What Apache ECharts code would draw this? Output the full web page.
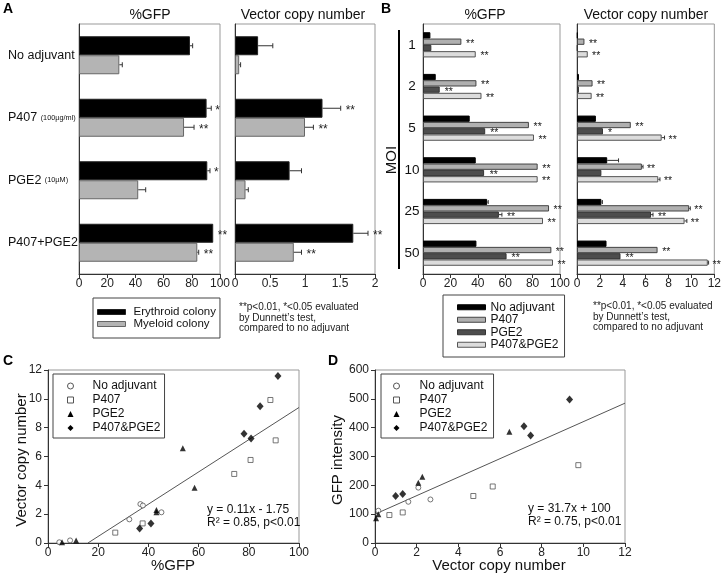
<!DOCTYPE html>
<html><head><meta charset="utf-8">
<script src="https://cdn.jsdelivr.net/npm/echarts@6/dist/echarts.min.js"></script>
<style>html,body{margin:0;padding:0;background:#fff}#c{width:724px;height:581px}</style>
</head><body><div id="c"></div>
<script>
// ---------- Panel A ----------
const catA = ['No adjuvant', 'P407', 'PGE2', 'P407+PGE2'];
const doseA = ['', '(100µg/ml)', '(10µM)', ''];
const aGfpEry = [78.7, 90.5, 91, 95.2];
const aGfpEryErr = [80.6, 93.8, 92.9, 95.6];
const aGfpEryStar = ['', '*', '*', '**'];
const aGfpMye = [28.6, 74.5, 42, 83.9];
const aGfpMyeErr = [30.7, 81.6, 47.3, 84.9];
const aGfpMyeStar = ['', '**', '', '**'];
const aVcnEry = [0.33, 1.25, 0.78, 1.69];
const aVcnEryErr = [0.54, 1.51, 0.95, 1.9];
const aVcnEryStar = ['', '**', '', '**'];
const aVcnMye = [0.06, 1.0, 0.15, 0.84];
const aVcnMyeErr = [0.08, 1.12, 0.19, 0.95];
const aVcnMyeStar = ['', '**', '', '**'];
const aGfpTicks = [0, 100, 20];
const aVcnTicks = [0, 2, 0.5];

// ---------- Panel B ----------
const catB = ['1', '2', '5', '10', '25', '50'];
const bGfpNoAdj = [5.4, 9.3, 34.1, 38.5, 46.8, 39];
const bGfpNoAdjErr = [null, null, 34.5, 39, 47.6, null];
const bGfpNoAdjStar = ['', '', '', '', '', ''];
const bGfpP407 = [28, 39, 77.3, 83.7, 92, 93.7];
const bGfpP407Err = [28.5, 39.5, 77.8, 84.2, 92.4, 94];
const bGfpP407Star = ['**', '**', '**', '**', '**', '**'];
const bGfpPGE2 = [6.1, 12.2, 45.4, 44.6, 55.4, 61];
const bGfpPGE2Err = [null, null, null, 45, 57.6, null];
const bGfpPGE2Star = ['', '**', '**', '**', '**', '**'];
const bGfpPP = [38.5, 42.7, 81, 83.7, 87.6, 94.9];
const bGfpPPErr = [39, 43, 81.3, 84, 88, 95.2];
const bGfpPPStar = ['**', '**', '**', '**', '**', '**'];

const bVcnNoAdj = [0.06, 0.17, 1.65, 2.64, 2.13, 2.58];
const bVcnNoAdjErr = [null, null, 1.7, 3.63, 2.22, null];
const bVcnNoAdjStar = ['', '', '', '', '', ''];
const bVcnP407 = [0.65, 1.36, 4.7, 5.67, 9.8, 7.04];
const bVcnP407Err = [0.7, 1.4, 4.75, 5.77, 9.9, 7.1];
const bVcnP407Star = ['**', '**', '**', '**', '**', '**'];
const bVcnPGE2 = [0.05, 0.17, 2.27, 2.13, 6.47, 3.8];
const bVcnPGE2Err = [null, null, null, null, 6.64, null];
const bVcnPGE2Star = ['', '', '*', '', '**', '**'];
const bVcnPP = [0.94, 1.28, 7.4, 7.1, 9.4, 11.43];
const bVcnPPErr = [0.97, 1.3, 7.65, 7.25, 9.6, 11.5];
const bVcnPPStar = ['**', '**', '**', '**', '**', '**'];

// ---------- Panel C (x: %GFP, y: vector copy number) ----------
const cNoAdjX = [4.5, 8.8, 32.4, 36.8, 45.2, 37.8];
const cNoAdjY = [0.05, 0.18, 1.64, 2.7, 2.13, 2.6];
const cP407X = [26.8, 37.7, 74.2, 80.7, 88.6, 90.7];
const cP407Y = [0.72, 1.36, 4.79, 5.76, 9.92, 7.12];
const cPGE2X = [5.6, 11.2, 43.2, 43.2, 53.7, 58.4];
const cPGE2Y = [0.05, 0.18, 2.29, 2.13, 6.57, 3.84];
const cPPX = [36.5, 41, 78.1, 80.9, 84.5, 91.6];
const cPPY = [1.0, 1.36, 7.58, 7.24, 9.48, 11.58];
const cFitX = [15.9, 100];
const cFitY = [0, 9.4];

// ---------- Panel D (x: vector copy number, y: GFP intensity) ----------
const dNoAdjX = [0.16, 1.6, 2.08, 2.66];
const dNoAdjY = [112, 143, 192, 151];
const dP407X = [0.69, 1.33, 4.72, 5.65, 9.76];
const dP407Y = [97, 106, 163, 196, 270];
const dPGE2X = [0.05, 0.16, 2.08, 2.27, 6.45];
const dPGE2Y = [86, 100, 209, 230, 386];
const dPPX = [0.99, 1.33, 7.15, 7.47, 9.34];
const dPPY = [163, 170, 405, 373, 498];
const dFitX = [0, 12];
const dFitY = [100, 485];

const F = '"Liberation Sans", Arial, Helvetica, sans-serif';
const zip = (xs, ys) => xs.map((x, i) => [x, ys[i]]);

const cBlack = '#000', cP407 = '#b0b0b0', cPGE2 = '#4d4d4d', cPP = '#dcdcdc', cMye = '#b4b4b4';

function valAxis(grid, t, labelExtra) {
  return {
    gridIndex: grid, type: 'value', min: t[0], max: t[1], interval: t[2],
    axisLine: { show: true, onZero: false, lineStyle: { color: '#333', width: 1 } },
    axisTick: { show: true, length: 4, lineStyle: { color: '#333' } },
    axisLabel: Object.assign({ margin: 4, fontFamily: F, fontSize: 12, color: '#222' }, labelExtra || {}),
    splitLine: { show: false }
  };
}
function catAxis(grid, data, label) {
  return {
    gridIndex: grid, type: 'category', data: data, inverse: true,
    axisLine: { show: true, lineStyle: { color: '#333' } },
    axisTick: { show: false },
    axisLabel: label || { show: false }
  };
}
function bar(name, idx, data, color, border, width) {
  return {
    type: 'bar', name: name, xAxisIndex: idx, yAxisIndex: idx, data: data,
    barWidth: width, barGap: '0%', barCategoryGap: '0%',
    itemStyle: { color: color, borderColor: border, borderWidth: 1 }
  };
}
function errStar(idx, vals, errs, stars, off, capH, fs, gap, dy) {
  return {
    type: 'custom', xAxisIndex: idx, yAxisIndex: idx, silent: true, z: 10, clip: false,
    data: vals.map((v, i) => [v, i, errs[i] == null ? v : errs[i]]),
    encode: { x: [0, 2], y: 1 },
    renderItem: (params, api) => {
      const i = params.dataIndex;
      const a = api.coord([api.value(0), i]);
      const b = api.coord([api.value(2), i]);
      const y = a[1] + off;
      const ch = [];
      if (errs[i] != null && b[0] - a[0] > 0.8) {
        ch.push({ type: 'line', shape: { x1: a[0], y1: y, x2: b[0], y2: y }, style: { stroke: '#333', lineWidth: 1 } });
        ch.push({ type: 'line', shape: { x1: b[0], y1: y - capH, x2: b[0], y2: y + capH }, style: { stroke: '#333', lineWidth: 1 } });
      }
      if (stars[i]) {
        ch.push({ type: 'text', x: b[0] + gap, y: y + dy,
          style: { text: stars[i], fill: '#222', font: fs + 'px ' + F, verticalAlign: 'middle', align: 'left' } });
      }
      return { type: 'group', children: ch };
    }
  };
}

const gridBase = { show: true, borderColor: '#999', borderWidth: 1, containLabel: false };
const grids = [
  { left: 79, top: 24, width: 141, height: 250 },
  { left: 235, top: 24, width: 140, height: 250 },
  { left: 423, top: 24, width: 137, height: 250 },
  { left: 577, top: 24, width: 141, height: 250 },
  { left: 48, top: 370, width: 251, height: 173 },
  { left: 375, top: 370, width: 250, height: 173 }
].map(g => Object.assign({}, gridBase, g));

const aLabel = {
  margin: 71, align: 'left', fontFamily: F, fontSize: 12.5, color: '#111',
  formatter: (v, i) => doseA[i] ? v + ' {s|' + doseA[i] + '}' : v,
  rich: { s: { fontSize: 7.3, fontFamily: F, color: '#111' } }
};
const bLabel = { margin: 11, align: 'center', fontFamily: F, fontSize: 13.5, color: '#111' };

const AW = 19, BW = 6.3;
const series = [
  bar('Erythroid colony', 0, aGfpEry, cBlack, '#222', AW),
  bar('Myeloid colony', 0, aGfpMye, cMye, '#666', AW),
  bar('Erythroid colony', 1, aVcnEry, cBlack, '#222', AW),
  bar('Myeloid colony', 1, aVcnMye, cMye, '#666', AW),
  errStar(0, aGfpEry, aGfpEryErr, aGfpEryStar, -AW / 2, 2.5, 12, 4, 2),
  errStar(0, aGfpMye, aGfpMyeErr, aGfpMyeStar, AW / 2, 2.5, 12, 5, 2),
  errStar(1, aVcnEry, aVcnEryErr, aVcnEryStar, -AW / 2, 2.5, 12, 5, 2),
  errStar(1, aVcnMye, aVcnMyeErr, aVcnMyeStar, AW / 2, 2.5, 12, 5, 2),

  bar('No adjuvant', 2, bGfpNoAdj, cBlack, '#000', BW),
  bar('P407', 2, bGfpP407, cP407, '#444', BW),
  bar('PGE2', 2, bGfpPGE2, cPGE2, '#333', BW),
  bar('P407&PGE2', 2, bGfpPP, cPP, '#555', BW),
  bar('No adjuvant', 3, bVcnNoAdj, cBlack, '#000', BW),
  bar('P407', 3, bVcnP407, cP407, '#444', BW),
  bar('PGE2', 3, bVcnPGE2, cPGE2, '#333', BW),
  bar('P407&PGE2', 3, bVcnPP, cPP, '#555', BW),
  errStar(2, bGfpNoAdj, bGfpNoAdjErr, bGfpNoAdjStar, -1.5 * BW, 2, 10.5, 4, 2),
  errStar(2, bGfpP407, bGfpP407Err, bGfpP407Star, -0.5 * BW, 2, 10.5, 4, 2),
  errStar(2, bGfpPGE2, bGfpPGE2Err, bGfpPGE2Star, 0.5 * BW, 2, 10.5, 5, 2),
  errStar(2, bGfpPP, bGfpPPErr, bGfpPPStar, 1.5 * BW, 2, 10.5, 4, 2),
  errStar(3, bVcnNoAdj, bVcnNoAdjErr, bVcnNoAdjStar, -1.5 * BW, 2, 10.5, 4, 2),
  errStar(3, bVcnP407, bVcnP407Err, bVcnP407Star, -0.5 * BW, 2, 10.5, 4, 2),
  errStar(3, bVcnPGE2, bVcnPGE2Err, bVcnPGE2Star, 0.5 * BW, 2, 10.5, 5, 2),
  errStar(3, bVcnPP, bVcnPPErr, bVcnPPStar, 1.5 * BW, 2, 10.5, 4, 2),

  { type: 'line', xAxisIndex: 4, yAxisIndex: 4, data: zip(cFitX, cFitY), symbol: 'none', silent: true,
    lineStyle: { color: '#555', width: 1 }, z: 1 },
  { type: 'scatter', name: 'No adjuvant', xAxisIndex: 4, yAxisIndex: 4, data: zip(cNoAdjX, cNoAdjY),
    symbol: 'circle', symbolSize: 5, itemStyle: { color: '#fff', borderColor: '#555', borderWidth: 1 } },
  { type: 'scatter', name: 'P407', xAxisIndex: 4, yAxisIndex: 4, data: zip(cP407X, cP407Y),
    symbol: 'rect', symbolSize: 5, itemStyle: { color: '#fff', borderColor: '#555', borderWidth: 1 } },
  { type: 'scatter', name: 'PGE2', xAxisIndex: 4, yAxisIndex: 4, data: zip(cPGE2X, cPGE2Y),
    symbol: 'triangle', symbolSize: 6, itemStyle: { color: '#000' } },
  { type: 'scatter', name: 'P407&PGE2', xAxisIndex: 4, yAxisIndex: 4, data: zip(cPPX, cPPY),
    symbol: 'diamond', symbolSize: [7, 8], itemStyle: { color: '#000' } },

  { type: 'line', xAxisIndex: 5, yAxisIndex: 5, data: zip(dFitX, dFitY), symbol: 'none', silent: true,
    lineStyle: { color: '#555', width: 1 }, z: 1 },
  { type: 'scatter', name: 'No adjuvant', xAxisIndex: 5, yAxisIndex: 5, data: zip(dNoAdjX, dNoAdjY),
    symbol: 'circle', symbolSize: 5, itemStyle: { color: '#fff', borderColor: '#555', borderWidth: 1 } },
  { type: 'scatter', name: 'P407', xAxisIndex: 5, yAxisIndex: 5, data: zip(dP407X, dP407Y),
    symbol: 'rect', symbolSize: 5, itemStyle: { color: '#fff', borderColor: '#555', borderWidth: 1 } },
  { type: 'scatter', name: 'PGE2', xAxisIndex: 5, yAxisIndex: 5, data: zip(dPGE2X, dPGE2Y),
    symbol: 'triangle', symbolSize: 6, itemStyle: { color: '#000' } },
  { type: 'scatter', name: 'P407&PGE2', xAxisIndex: 5, yAxisIndex: 5, data: zip(dPPX, dPPY),
    symbol: 'diamond', symbolSize: [7, 8], itemStyle: { color: '#000' } }
];

const scatterLegendItems = [
  { name: 'No adjuvant', icon: 'circle', itemStyle: { color: '#fff', borderColor: '#555', borderWidth: 1 } },
  { name: 'P407', icon: 'rect', itemStyle: { color: '#fff', borderColor: '#555', borderWidth: 1 } },
  { name: 'PGE2', icon: 'triangle', itemStyle: { color: '#000', borderColor: '#000', borderWidth: 0 } },
  { name: 'P407&PGE2', icon: 'diamond', itemStyle: { color: '#000', borderColor: '#000', borderWidth: 0 } }
];
const legendTxt = (pl) => ({ fontFamily: F, fontSize: 12, color: '#111', padding: [0, 0, 0, pl] });

const legends = [
  { selectedMode: false, orient: 'vertical', left: 93, top: 298, padding: [8, 4, 8, 4], itemGap: 0,
    itemWidth: 28, itemHeight: 5, icon: 'rect', borderColor: '#444', borderWidth: 1,
    textStyle: Object.assign(legendTxt(3), { fontSize: 11.5, lineHeight: 12 }),
    data: [
      { name: 'Erythroid colony', itemStyle: { color: '#000', borderColor: '#222', borderWidth: 1 } },
      { name: 'Myeloid colony', itemStyle: { color: cMye, borderColor: '#666', borderWidth: 1 } }
    ] },
  { selectedMode: false, orient: 'vertical', left: 443, top: 295, padding: [6, 6, 6, 14], itemGap: 0,
    itemWidth: 28, itemHeight: 5, icon: 'rect', borderColor: '#444', borderWidth: 1,
    textStyle: Object.assign(legendTxt(0), { lineHeight: 12.5 }),
    data: [
      { name: 'No adjuvant', icon: 'rect', itemStyle: { color: '#000', borderColor: '#000', borderWidth: 1 } },
      { name: 'P407', icon: 'rect', itemStyle: { color: cP407, borderColor: '#444', borderWidth: 1 } },
      { name: 'PGE2', icon: 'rect', itemStyle: { color: cPGE2, borderColor: '#333', borderWidth: 1 } },
      { name: 'P407&PGE2', icon: 'rect', itemStyle: { color: cPP, borderColor: '#555', borderWidth: 1 } }
    ] },
  { selectedMode: false, orient: 'vertical', left: 53, top: 374, padding: [5, 4, 3, 14], itemGap: 0,
    itemWidth: 6, itemHeight: 6, borderColor: '#444', borderWidth: 1,
    textStyle: Object.assign(legendTxt(14), { lineHeight: 14 }), data: scatterLegendItems },
  { selectedMode: false, orient: 'vertical', left: 381, top: 374, padding: [5, 6, 3, 12], itemGap: 0,
    itemWidth: 6, itemHeight: 6, borderColor: '#444', borderWidth: 1,
    textStyle: Object.assign(legendTxt(15), { lineHeight: 14 }), data: scatterLegendItems }
];

function txt(text, x, y, size, opts) {
  return Object.assign({ type: 'text', x: x, y: y, silent: true,
    style: Object.assign({ text: text, fill: '#111', font: size + 'px ' + F, align: 'center', verticalAlign: 'middle' },
      (opts && opts.style) || {}) }, (opts && opts.el) || {});
}
const noteLines = '**p<0.01, *<0.05 evaluated\nby Dunnett\u2019s test,\ncompared to no adjuvant';
const graphics = [
  txt('A', 3, 9, 14, { style: { font: 'bold 14px ' + F, align: 'left', fill: '#000' } }),
  txt('B', 381, 9, 14, { style: { font: 'bold 14px ' + F, align: 'left', fill: '#000' } }),
  txt('C', 3, 361, 14, { style: { font: 'bold 14px ' + F, align: 'left', fill: '#000' } }),
  txt('D', 328, 361, 14, { style: { font: 'bold 14px ' + F, align: 'left', fill: '#000' } }),
  txt('%GFP', 150, 15, 14),
  txt('Vector copy number', 303, 15, 14),
  txt('%GFP', 485, 15, 14),
  txt('Vector copy number', 646, 15, 14),
  txt('MOI', 392, 160, 15, { el: { rotation: Math.PI / 2 } }),
  { type: 'line', silent: true, shape: { x1: 399, y1: 30, x2: 399, y2: 269 }, style: { stroke: '#000', lineWidth: 2 } },
  txt(noteLines, 239, 302, 10, { style: { align: 'left', verticalAlign: 'top', lineHeight: 10.5, fill: '#222' } }),
  txt(noteLines, 593, 301, 10, { style: { align: 'left', verticalAlign: 'top', lineHeight: 10.5, fill: '#222' } }),
  txt('Vector copy number', 22, 460, 15, { el: { rotation: Math.PI / 2 } }),
  txt('%GFP', 173, 566, 15),
  txt('GFP intensity', 338, 460, 15, { el: { rotation: Math.PI / 2 } }),
  txt('Vector copy number', 499, 566, 15),
  txt('y = 0.11x - 1.75\nR\u00b2 = 0.85, p<0.01', 207, 516, 12, { style: { align: 'left', lineHeight: 13.5, fill: '#111' } }),
  txt('y = 31.7x + 100\nR\u00b2 = 0.75, p<0.01', 528, 515, 12, { style: { align: 'left', lineHeight: 13.5, fill: '#111' } })
];

const chart = echarts.init(document.getElementById('c'), null, { renderer: 'canvas' });
chart.setOption({
  animation: false,
  backgroundColor: '#fff',
  textStyle: { fontFamily: F },
  grid: grids,
  legend: legends,
  xAxis: [
    valAxis(0, aGfpTicks), valAxis(1, aVcnTicks),
    valAxis(2, [0, 100, 20]), valAxis(3, [0, 12, 2]),
    valAxis(4, [0, 100, 20]), valAxis(5, [0, 12, 2])
  ],
  yAxis: [
    catAxis(0, catA, aLabel), catAxis(1, catA),
    catAxis(2, catB, bLabel), catAxis(3, catB),
    valAxis(4, [0, 12, 2], { margin: 6 }), valAxis(5, [0, 600, 100], { margin: 6 })
  ],
  series: series,
  graphic: graphics
});
</script>
</body></html>
